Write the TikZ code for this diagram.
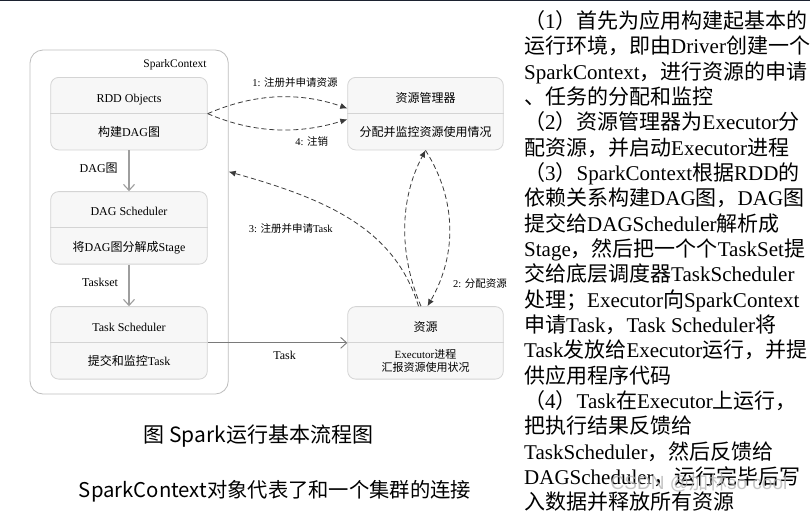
\documentclass[tikz,border=0pt]{standalone}
\usepackage{fontspec}
\setmainfont{Liberation Serif}
\newfontfamily\cjk{Noto Sans CJK SC}
\newfontfamily\wmfont{Liberation Sans}
\usetikzlibrary{arrows.meta}
% automatic switch between Latin (serif) and CJK font
\XeTeXinterchartokenstate=1
\newXeTeXintercharclass\cjkclass
\count255="3000 \loop\XeTeXcharclass\count255=\cjkclass\advance\count255 by 1 \ifnum\count255<"3040 \repeat
\count255="4E00 \loop\XeTeXcharclass\count255=\cjkclass\advance\count255 by 1 \ifnum\count255<"A000 \repeat
\count255="FF00 \loop\XeTeXcharclass\count255=\cjkclass\advance\count255 by 1 \ifnum\count255<"FFF0 \repeat
\newif\ifautocjk \autocjktrue
\def\cjkon{\ifautocjk\cjk\fi}
\def\cjkoff{\ifautocjk\rmfamily\fi}
\XeTeXinterchartoks 0 \cjkclass = {\cjkon}
\XeTeXinterchartoks 4095 \cjkclass = {\cjkon}
\XeTeXinterchartoks \cjkclass 0 = {\cjkoff}
\XeTeXinterchartoks \cjkclass 4095 = {\cjkoff}
\definecolor{boxfill}{HTML}{F7F7F7}
\definecolor{boxline}{HTML}{D4D4D4}
\definecolor{outerline}{HTML}{BEBEBE}
\definecolor{flowgray}{HTML}{9E9E9E}
\definecolor{taskgray}{HTML}{7A7A7A}
\definecolor{dashcol}{HTML}{3A3A3A}
\definecolor{topcol}{HTML}{1C2230}
\begin{document}
\begin{tikzpicture}[x=1pt,y=-1pt,
  outerbox/.style={draw=outerline,fill=white,line width=0.8pt,rounded corners=13pt,minimum width=198.3pt,minimum height=344pt,inner sep=0pt},
  twobox/.style={draw=boxline,fill=boxfill,line width=0.8pt,rounded corners=8pt,minimum width=156.6pt,minimum height=72.5pt,inner sep=0pt},
  divider/.style={draw=boxline,line width=0.8pt},
  txt/.style={anchor=base,inner sep=0pt,font=\fontsize{12}{14}\selectfont},
  smalltxt/.style={anchor=base,inner sep=0pt,font=\fontsize{11}{13.3}\selectfont},
  elabel/.style={anchor=base,inner sep=0pt,font=\fontsize{10.5}{12}\selectfont},
  flow/.style={draw=flowgray,line width=1.2pt,-{Straight Barb[length=6pt,width=11pt,line width=1.1pt]}},
  taskflow/.style={draw=taskgray,line width=0.9pt,-{Straight Barb[length=6pt,width=11pt,line width=0.9pt]}},
  dasharr/.style={draw=dashcol,line width=0.8pt,dash pattern=on 5pt off 3pt,-{Latex[length=7pt,width=6pt]}},
  desc/.style={anchor=base west,inner sep=0pt,font=\fontsize{21}{25.34}\selectfont},
  caption/.style={anchor=base,inner sep=0pt,font=\autocjkfalse\cjk\fontsize{21}{25}\selectfont}]
\useasboundingbox (0,0) rectangle (810,512);
\fill[white] (0,0) rectangle (810,512);
\draw[topcol,line width=1.2pt] (0,0.6) -- (810,0.6);

% SparkContext container
\node[outerbox] (sc) at (129.15,222) {};
\node[anchor=base,inner sep=0pt,font=\fontsize{11.5}{13}\selectfont] (sclbl) at (175,67.5) {SparkContext};

% left boxes
\node[twobox] (rdd) at (129,113.65) {};
\draw[divider] (rdd.west) -- (rdd.east);
\node[txt] (rddt) at (129,102.8) {RDD Objects};
\node[txt] (rddb) at (129,136) {构建DAG图};

\node[twobox] (dag) at (129,227.85) {};
\draw[divider] (dag.west) -- (dag.east);
\node[txt] (dagt) at (129,215) {DAG Scheduler};
\node[txt] (dagb) at (129,251.6) {将DAG图分解成Stage};

\node[twobox] (ts) at (129,342.85) {};
\draw[divider] (ts.west) -- (ts.east);
\node[txt] (tst) at (129,331) {Task Scheduler};
\node[txt] (tsb) at (129,365) {提交和监控Task};

% right boxes
\node[twobox,minimum width=155.6pt] (rm) at (425.5,113.65) {};
\draw[divider] (rm.west) -- (rm.east);
\node[txt] (rmt) at (425.5,102.6) {资源管理器};
\node[txt] (rmb) at (425.5,136) {分配并监控资源使用情况};

\node[twobox,minimum width=155.6pt] (res) at (425.5,342.85) {};
\draw[divider] (res.west) -- (res.east);
\node[txt] (rest) at (425.5,331) {资源};
\node[smalltxt] (resb1) at (425.5,358.2) {Executor进程};
\node[smalltxt] (resb2) at (425.5,371.5) {汇报资源使用状况};

% solid flows
\draw[flow] (rdd.south) -- (dag.north);
\node[txt] (l1) at (98.7,172) {DAG图};
\draw[flow] (dag.south) -- (ts.north);
\node[txt] (l2) at (100,286.5) {Taskset};
\draw[taskflow] (ts.east) -- (res.west);
\node[txt] (l3) at (284.5,359.2) {Task};

% dashed connectors
\draw[dasharr] (rdd.east) .. controls (255,93) and (300,92) .. ([yshift=5.3pt]rm.west);
\draw[dasharr] (rdd.east) .. controls (255,134) and (300,134) .. ([yshift=-5.7pt]rm.west);
\node[elabel] (e1) at (295,86.5) {1: 注册并申请资源};
\node[elabel] (e4) at (311.7,145.5) {4: 注销};

\draw[dasharr] ([xshift=-7pt]res.north) .. controls (395,230) and (330,200) .. ([yshift=50.3pt]sc.east);
\node[elabel] (e3) at (290.8,232.2) {3: 注册并申请Task};

\draw[dasharr] ([xshift=-4.5pt]res.north) .. controls (399,255) and (399,200) .. (rm.south);
\draw[dasharr] (rm.south) .. controls (457,200) and (457,255) .. ([xshift=2pt]res.north);
\node[elabel] (e2) at (480,287.2) {2: 分配资源};

% captions
\node[caption] (cap1) at (258.3,442) {图 Spark运行基本流程图};
\node[caption,font=\autocjkfalse\cjk\fontsize{20.3}{24}\selectfont] (cap2) at (275,497.8) {SparkContext对象代表了和一个集群的连接};

% description text
\foreach \t [count=\i] in {
（1）首先为应用构建起基本的,
运行环境，即由Driver创建一个,
SparkContext，进行资源的申请,
、任务的分配和监控,
（2）资源管理器为Executor分,
配资源，并启动Executor进程,
（3）SparkContext根据RDD的,
依赖关系构建DAG图，DAG图,
提交给DAGScheduler解析成,
Stage，然后把一个个TaskSet提,
交给底层调度器TaskScheduler,
处理；Executor向SparkContext,
申请Task，Task Scheduler将,
Task发放给Executor运行，并提,
供应用程序代码,
（4）Task在Executor上运行，,
把执行结果反馈给,
TaskScheduler，然后反馈给,
DAGScheduler，运行完毕后写,
入数据并释放所有资源}
  \node[desc] (d\i) at (524,{28.5+25.34*(\i-1)}) {\t};

% watermark
\node[anchor=base,inner sep=0pt,text=gray!60,opacity=0.75] (wm) at (699,489.5)
  {\autocjkfalse\wmfont\fontsize{19}{22}\selectfont CSDN @{\cjk 加林}so cool};
\end{tikzpicture}
\end{document}
